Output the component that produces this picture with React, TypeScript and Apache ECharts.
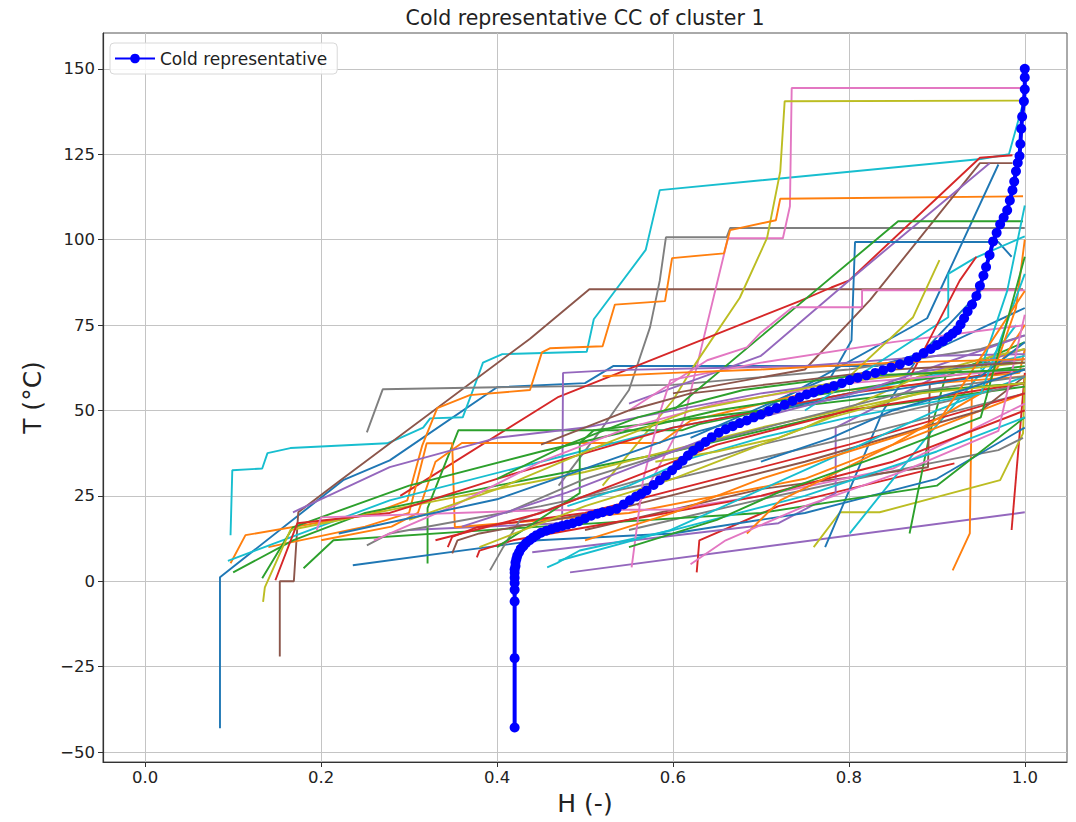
import React, { useEffect, useRef } from "react";
import * as echarts from "echarts";

const hTicks = [0, 0.2, 0.4, 0.6, 0.8, 1.0];
const tTicks = [-50, -25, 0, 25, 50, 75, 100, 125, 150];
const hRange = [-0.048, 1.048];
const tRange = [-52.9, 160.5];
const chartTitle = "Cold representative CC of cluster 1";
const hName = "H (-)";
const tName = "T (°C)";
const repName = "Cold representative";

// representative composite curve [H, T]
const representative: number[][] = [
  [0.42, -42.8], [0.42, -22.5], [0.42, -5.9], [0.42, -2.5], [0.42, -0.5], [0.42, 1], [0.42, 2.5], [0.42, 3.5],
  [0.421, 4.5], [0.421, 5.5], [0.422, 6.5], [0.423, 7.5], [0.425, 8.5], [0.427, 9.5], [0.43, 10.3], [0.433, 11.2],
  [0.437, 12], [0.441, 12.8], [0.445, 13.5], [0.45, 14.2], [0.456, 14.8], [0.462, 15.3], [0.468, 15.8], [0.474, 16.2],
  [0.48, 16.6], [0.486, 17], [0.493, 17.6], [0.5, 18.4], [0.507, 19.2], [0.514, 19.8], [0.52, 20.2], [0.528, 20.6],
  [0.536, 21.2], [0.544, 22.5], [0.551, 23.7], [0.558, 24.8], [0.564, 25.6], [0.57, 26.6], [0.578, 28.2], [0.585, 29.6],
  [0.592, 31], [0.599, 32.5], [0.605, 34], [0.611, 35.3], [0.617, 36.8], [0.623, 38.2], [0.63, 39.5], [0.637, 40.8],
  [0.644, 42.2], [0.652, 43.5], [0.66, 44.5], [0.668, 45.4], [0.676, 46.3], [0.684, 47.1], [0.692, 48], [0.7, 48.8],
  [0.709, 49.8], [0.718, 50.7], [0.727, 51.7], [0.736, 52.8], [0.744, 53.9], [0.752, 54.7], [0.76, 55.3], [0.768, 56],
  [0.775, 56.5], [0.783, 57.2], [0.792, 58], [0.801, 58.9], [0.81, 59.6], [0.82, 60.3], [0.83, 61], [0.839, 61.8],
  [0.848, 62.6], [0.858, 63.5], [0.868, 64.5], [0.877, 65.6], [0.885, 66.8], [0.893, 68], [0.9, 69.2], [0.907, 70.3],
  [0.913, 71.5], [0.918, 72.5], [0.923, 73.5], [0.927, 75.2], [0.931, 77], [0.935, 79], [0.94, 81], [0.945, 83.5],
  [0.949, 86.5], [0.953, 89.5], [0.956, 92], [0.96, 95.5], [0.964, 99.5], [0.968, 102], [0.972, 104.5], [0.976, 106.5],
  [0.98, 108.6], [0.983, 111.5], [0.986, 114.5], [0.988, 117], [0.99, 120], [0.992, 122.5], [0.994, 124.5], [0.995, 128],
  [0.996, 132.5], [0.997, 136], [0.999, 140.5], [1.0, 144], [1.0, 147.5], [1.0, 150],
];

// individual cold composite curves [H, T]
const coldCurves: number[][][] = [
  [[0.085, -43], [0.085, 1.2], [0.225, 29.6], [0.278, 35.4], [0.4, 56.8], [0.5, 58], [0.532, 63], [0.832, 63], [0.9, 68], [1.0, 80]],
  [[0.097, 13.5], [0.099, 32.5], [0.133, 33], [0.139, 37.5], [0.165, 39], [0.275, 40.4], [0.29, 42], [0.316, 45], [0.324, 47.7], [0.361, 48], [0.377, 59], [0.384, 64], [0.406, 66.5], [0.502, 67.2], [0.51, 76.7], [0.569, 97], [0.585, 114.5], [0.95, 123.6], [0.982, 125], [0.997, 139]],
  [[0.153, -22], [0.153, 0], [0.169, 0], [0.174, 20.2], [0.222, 29.6], [0.4375, 71], [0.505, 85.5], [0.998, 85.5]],
  [[0.252, 43.6], [0.27, 56.2], [0.4, 56.8], [0.6, 57.5], [0.8, 62], [0.95, 68], [1.0, 72]],
  [[0.47, 28], [0.52, 45], [0.55, 56], [0.574, 74.4], [0.585, 88], [0.592, 100.7], [0.661, 100.7], [0.665, 103.4], [1.0, 103.4]],
  [[0.56, 22], [0.6125, 47.4], [0.6625, 100.4], [0.725, 100.4], [0.733, 109.8], [0.735, 144.4], [0.998, 144.4]],
  [[0.52, 28], [0.6, 53], [0.623, 62.7], [0.676, 83], [0.707, 100.5], [0.722, 120], [0.727, 140.5], [0.998, 140.7]],
  [[0.097, 5.3], [0.114, 13.5], [0.259, 19.9], [0.298, 23.7], [0.315, 39.8], [0.332, 50.7], [0.369, 54.5], [0.4375, 56], [0.451, 67], [0.46, 68.2], [0.52, 68.8], [0.534, 81], [0.591, 82], [0.599, 94.6], [0.658, 96], [0.665, 102.8], [0.717, 105.7], [0.722, 112], [0.998, 112.7]],
  [[0.29, 25], [0.47, 54], [0.744, 82], [0.78, 86], [0.8, 88], [0.949, 124], [0.986, 124.7]],
  [[0.6, 55], [0.75, 62], [0.824, 82.3], [0.949, 122.4], [0.986, 122.4]],
  [[0.55, 52], [0.7, 66], [0.8, 88], [0.96, 122.4]],
  [[0.7, 50], [0.889, 77], [0.97, 122]],
  [[0.62, 42], [0.78, 60], [0.803, 70.5], [0.807, 99.3], [0.97, 99.3], [0.985, 95]],
  [[0.6, 50], [0.714, 74.7], [0.856, 105.4], [0.998, 105.4]],
  [[0.483, 2.6], [1.0, 20.2]],
  [[0.985, 15], [1.0, 61]],
  [[0.918, 3.2], [0.9375, 14], [0.94, 59.7], [0.994, 61], [1.0, 68]],
  [[0.76, 10], [0.79, 20.2], [0.835, 20.2], [0.972, 29.6], [0.998, 43.3], [1.0, 60]],
  [[0.55, 15], [0.7, 24], [0.892, 34.5], [0.97, 38.4], [0.998, 42]],
  [[0.627, 2.6], [0.63, 12], [0.72, 22], [0.92, 34.5]],
  [[0.801, 14], [0.892, 43.3], [0.941, 58], [0.99, 75]],
  [[0.773, 10], [0.839, 50], [0.88, 66], [0.95, 85]],
  [[0.869, 14], [0.892, 43.3], [0.91, 60], [1.0, 70]],
  [[0.5, 15], [0.7, 27], [0.89, 33.4], [0.892, 58], [1.0, 62]],
  [[0.44, 8.5], [0.72, 17], [0.785, 25.8], [0.785, 45], [0.9, 60], [1.0, 68]],
  [[0.3, 15], [0.474, 17], [0.475, 61], [0.532, 61.8], [0.75, 63], [0.9, 66], [1.0, 66.5]],
  [[0.321, 5.2], [0.321, 21.4], [0.356, 44.2], [0.61, 44.2], [0.63, 46], [0.8, 55], [0.95, 64], [1.0, 64]],
  [[0.14, 10], [0.25, 16], [0.3, 20], [0.32, 40.4], [0.349, 40.4], [0.352, 15.8], [0.55, 20], [0.75, 30], [0.9, 45], [1.0, 55]],
  [[0.2, 12], [0.28, 16], [0.31, 20], [0.33, 35], [0.36, 40.5], [0.585, 40.5], [0.62, 47], [0.75, 55], [1.0, 60]],
  [[0.094, 6], [0.278, 23.7], [0.45, 35], [0.6, 45], [0.8, 55], [1.0, 66]],
  [[0.1, 2.6], [0.168, 12], [0.25, 20], [0.4, 28], [0.6, 38], [0.8, 50], [1.0, 57]],
  [[0.133, 0.9], [0.168, 15.8], [0.3, 28], [0.45, 38], [0.65, 50], [0.85, 58], [1.0, 63]],
  [[0.134, -6], [0.136, -1.8], [0.165, 15], [0.3, 22], [0.5, 32], [0.7, 45], [0.9, 56], [1.0, 58]],
  [[0.148, 0.3], [0.173, 17], [0.278, 20], [0.4, 30], [0.6, 45], [0.8, 55], [1.0, 62]],
  [[0.236, 4.7], [0.447, 12], [0.6, 14], [0.75, 20], [0.9, 30], [1.0, 45]],
  [[0.18, 3.8], [0.214, 12], [0.45, 16], [0.7, 20], [0.9, 28], [1.0, 48]],
  [[0.252, 10.5], [0.278, 14], [0.45, 22], [0.6, 30], [0.8, 42], [1.0, 55]],
  [[0.195, 15], [0.2, 18.7], [0.45, 20.8], [0.6, 21], [0.7, 25], [0.85, 33], [1.0, 52]],
  [[0.168, 20.2], [0.278, 33.4], [0.4, 42], [0.5, 45], [0.7, 55], [0.9, 62], [1.0, 65]],
  [[0.344, 10], [0.349, 13], [0.377, 15.8], [0.5, 20], [0.65, 30], [0.8, 40], [1.0, 55]],
  [[0.377, 7], [0.38, 9], [0.418, 12], [0.55, 18], [0.7, 25], [0.85, 35], [1.0, 50]],
  [[0.392, 3.2], [0.407, 10], [0.426, 17.9], [0.5, 25], [0.7, 40], [0.9, 52], [1.0, 58]],
  [[0.349, 8.2], [0.355, 12], [0.38, 14], [0.55, 22], [0.75, 35], [0.95, 50], [1.0, 60]],
  [[0.457, 4.1], [0.468, 5.3], [0.494, 9], [0.6, 15], [0.75, 25], [0.9, 38], [1.0, 48]],
  [[0.553, 4.1], [0.566, 29.6], [0.585, 49.2], [0.597, 58.9], [0.7, 64], [0.85, 70], [1.0, 75]],
  [[0.47, 6], [0.597, 15], [0.767, 34.5], [0.9, 50], [1.0, 60]],
  [[0.684, 14], [0.722, 23.7], [0.85, 40], [0.95, 55], [1.0, 75]],
  [[0.4, 10], [0.494, 25.8], [0.494, 40.4], [0.51, 44.2], [0.7, 50], [0.9, 56], [1.0, 58]],
  [[0.38, 10], [0.5, 22], [0.6, 30], [0.75, 45], [0.88, 60], [0.95, 65], [1.0, 68]],
  [[0.55, 50], [0.639, 64.7], [0.684, 68.5], [0.699, 72.6], [0.736, 80.2], [0.815, 80.2], [0.815, 85.2], [1.0, 85.2]],
  [[0.75, 50], [0.913, 77.3], [0.913, 90], [0.943, 94.6], [1.0, 101]],
  [[0.87, 60], [0.926, 88], [0.945, 95]],
  [[0.78, 55], [0.873, 77.3], [0.903, 94]],
  [[0.96, 58], [0.99, 80], [1.0, 100]],
  [[0.95, 62], [0.98, 85], [1.0, 110]],
  [[0.26, 12], [0.35, 22], [0.45, 35], [0.55, 45], [0.65, 52], [0.8, 58], [1.0, 62]],
  [[0.3, 18], [0.4, 27], [0.52, 40], [0.62, 50], [0.78, 58], [1.0, 64]],
  [[0.22, 14], [0.4, 24], [0.5, 33], [0.6, 42], [0.75, 52], [0.95, 60], [1.0, 70]],
  [[0.33, 12], [0.45, 20], [0.55, 30], [0.65, 40], [0.8, 50], [1.0, 58]],
  [[0.41, 20], [0.5, 30], [0.6, 38], [0.72, 46], [0.86, 55], [1.0, 60]],
  [[0.36, 16], [0.48, 26], [0.58, 36], [0.7, 48], [0.82, 56], [1.0, 72]],
  [[0.48, 22], [0.55, 28], [0.62, 36], [0.7, 42], [0.8, 48], [0.95, 55], [1.0, 90]],
  [[0.5, 12], [0.6, 20], [0.7, 30], [0.8, 38], [0.9, 46], [1.0, 85]],
  [[0.55, 10], [0.65, 18], [0.72, 26], [0.85, 38], [0.95, 48], [1.0, 95]],
  [[0.62, 5], [0.66, 12], [0.75, 22], [0.86, 32], [0.97, 44], [1.0, 78]],
  [[0.45, 40], [0.55, 50], [0.62, 55], [0.72, 58], [0.85, 62], [1.0, 64]],
  [[0.4, 30], [0.48, 40], [0.56, 48], [0.68, 56], [0.8, 60], [1.0, 62]],
  [[0.52, 60], [0.6, 61], [0.7, 62], [0.85, 64], [1.0, 65]],
  [[0.58, 35], [0.65, 38], [0.72, 42], [0.78, 48], [0.88, 55], [1.0, 58]],
  [[0.7, 35], [0.78, 42], [0.85, 50], [0.93, 56], [1.0, 62]],
];

const curveColors = [
  "#1f77b4", "#17becf", "#8c564b", "#7f7f7f", "#7f7f7f", "#e377c2", "#bcbd22", "#ff7f0e", "#d62728", "#8c564b",
  "#9467bd", "#1f77b4", "#1f77b4", "#2ca02c", "#9467bd", "#d62728", "#ff7f0e", "#bcbd22", "#7f7f7f", "#d62728",
  "#17becf", "#1f77b4", "#2ca02c", "#8c564b", "#9467bd", "#9467bd", "#2ca02c", "#ff7f0e", "#ff7f0e", "#17becf",
  "#2ca02c", "#2ca02c", "#bcbd22", "#d62728", "#1f77b4", "#2ca02c", "#7f7f7f", "#e377c2", "#9467bd", "#d62728",
  "#d62728", "#7f7f7f", "#8c564b", "#17becf", "#e377c2", "#17becf", "#ff7f0e", "#2ca02c", "#bcbd22", "#e377c2",
  "#17becf", "#d62728", "#bcbd22", "#ff7f0e", "#17becf",
  "#e377c2", "#bcbd22", "#1f77b4", "#d62728", "#7f7f7f", "#9467bd", "#17becf", "#ff7f0e", "#2ca02c", "#e377c2",
  "#8c564b", "#2ca02c", "#ff7f0e", "#bcbd22", "#1f77b4",
];

export default function App() {
  const ref = useRef<HTMLDivElement>(null);
  useEffect(() => {
    if (!ref.current) return;
    const chart = echarts.init(ref.current, null, { renderer: "svg" });
    const font = "DejaVu Sans";
    const curveSeries = coldCurves.map((pts, i) => ({
      name: "curve" + i,
      type: "line",
      data: pts,
      showSymbol: false,
      symbol: "none",
      silent: true,
      lineStyle: { width: 1.9, color: curveColors[i % curveColors.length] },
      itemStyle: { color: curveColors[i % curveColors.length] },
      z: 2,
    }));
    const option: any = {
      animation: false,
      backgroundColor: "#ffffff",
      textStyle: { fontFamily: font },
      grid: { left: 103, top: 33, width: 964, height: 729, show: true, borderColor: "#555", borderWidth: 1, containLabel: false },
      graphic: [
        {
          type: "text",
          x: 585,
          y: 18,
          style: { text: chartTitle, textAlign: "center", textVerticalAlign: "middle", fontSize: 20.5, fill: "#222", fontFamily: font },
        },
      ],
      legend: {
        data: [repName],
        left: 110,
        top: 43,
        orient: "vertical",
        padding: [7, 10, 7, 4],
        itemWidth: 40,
        itemHeight: 12,
        backgroundColor: "rgba(255,255,255,0.85)",
        borderColor: "#d8d8d8",
        borderWidth: 1,
        borderRadius: 4,
        textStyle: { fontSize: 17, color: "#222", fontFamily: font },
      },
      xAxis: {
        type: "value",
        min: hRange[0],
        max: hRange[1],
        name: hName,
        nameLocation: "middle",
        nameGap: 28,
        nameTextStyle: { fontSize: 25, color: "#222", fontFamily: font },
        axisLine: { show: true, onZero: false, lineStyle: { color: "#333", width: 1.2 } },
        axisTick: { show: true, customValues: hTicks, length: 5, lineStyle: { color: "#333" } },
        axisLabel: { customValues: hTicks, formatter: (v: number) => v.toFixed(1), fontSize: 16.5, color: "#222", margin: 7, fontFamily: font },
        splitLine: { show: true, lineStyle: { color: "#c4c4c4", width: 1 } },
      },
      yAxis: {
        type: "value",
        min: tRange[0],
        max: tRange[1],
        name: tName,
        nameLocation: "middle",
        nameGap: 58,
        nameRotate: 90,
        nameTextStyle: { fontSize: 25, color: "#222", fontFamily: font },
        axisLine: { show: true, onZero: false, lineStyle: { color: "#333", width: 1.2 } },
        axisTick: { show: true, customValues: tTicks, length: 5, lineStyle: { color: "#333" } },
        axisLabel: {
          customValues: tTicks,
          formatter: (v: number) => String(v).replace("-", "\u2212"),
          fontSize: 16.5,
          color: "#222",
          margin: 8,
          fontFamily: font,
        },
        splitLine: { show: true, lineStyle: { color: "#c4c4c4", width: 1 } },
      },
      series: [
        ...curveSeries,
        {
          name: repName,
          type: "line",
          data: representative,
          symbol: "circle",
          symbolSize: 10,
          showSymbol: true,
          lineStyle: { width: 4, color: "#0000ff" },
          itemStyle: { color: "#0000ff" },
          z: 5,
        },
      ],
    };
    chart.setOption(option);
    return () => chart.dispose();
  }, []);
  return <div ref={ref} style={{ position: "fixed", left: 0, top: 0, width: 1076, height: 822, background: "#fff" }} />;
}
